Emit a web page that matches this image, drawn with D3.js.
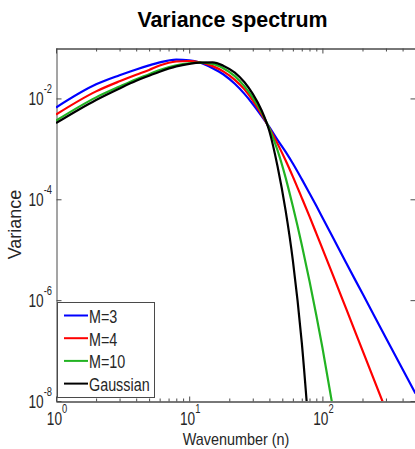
<!DOCTYPE html>
<html>
<head>
<meta charset="utf-8">
<script src="https://cdn.jsdelivr.net/npm/d3@7"></script>
<style>
  body { margin: 0; background: #fff; }
  svg { display: block; font-family: "Liberation Sans", Arial, sans-serif; }
</style>
</head>
<body>
<div id="chart"></div>
<script>
// Wavenumbers (n) at which the curves were read
const wavenumbers = [1, 2, 3, 4, 5, 6, 8, 10, 12, 15, 18, 22, 26, 30, 35, 40, 46, 53, 60, 70, 80, 90, 100, 120, 150, 200, 300, 500];

// Variance for each spectrum (curves stop once they leave the bottom of the plot)
const varianceM3 = [6.61e-3, 1.905e-2, 2.884e-2, 3.76e-2, 4.52e-2, 5.19e-2, 5.89e-2, 5.71e-2, 5.15e-2,
    3.98e-2, 3.02e-2, 1.95e-2, 1.23e-2, 7.76e-3, 4.47e-3, 2.69e-3, 1.51e-3, 8.71e-4, 5.13e-4,
    2.51e-4, 1.318e-4, 7.41e-5, 4.37e-5, 1.738e-5, 5.62e-6, 1.349e-6, 1.778e-7, 1.41e-8];
const varianceM4 = [4.79e-3, 1.38e-2, 2.19e-2, 2.95e-2, 3.67e-2, 4.50e-2, 5.40e-2, 5.52e-2, 5.21e-2,
    4.37e-2, 3.43e-2, 2.34e-2, 1.51e-2, 9.12e-3, 4.79e-3, 2.57e-3, 1.27e-3, 5.89e-4, 2.82e-4,
    1.07e-4, 4.57e-5, 2.11e-5, 1.05e-5, 3.13e-6, 7.0e-7, 1.01e-7, 6.6e-9];
const varianceM10 = [3.63e-3, 1.05e-2, 1.72e-2, 2.40e-2, 3.02e-2, 3.67e-2, 4.55e-2, 4.98e-2, 5.11e-2,
    4.84e-2, 3.98e-2, 2.77e-2, 1.73e-2, 1.04e-2, 5.26e-3, 2.52e-3, 9.44e-4, 2.66e-4, 7.24e-5,
    1.26e-5, 2.40e-6, 5.01e-7, 1.15e-7, 7.24e-9];
const varianceGauss = [3.24e-3, 9.33e-3, 1.58e-2, 2.24e-2, 2.82e-2, 3.39e-2, 4.32e-2, 4.86e-2, 5.15e-2,
    5.19e-2, 4.47e-2, 3.24e-2, 2.09e-2, 1.23e-2, 5.75e-3, 2.24e-3, 4.57e-4, 5.89e-5, 6.17e-6,
    1.45e-7, 1.82e-9];

const seriesNames = ["M=3", "M=4", "M=10", "Gaussian"];
const seriesValues = [varianceM3, varianceM4, varianceM10, varianceGauss];
const seriesColors = ["#0000ff", "#ff0000", "#22b322", "#000000"];

// Tick labels (10 to the power ...)
const xMajorTicks = [1, 10, 100];
const xTickExponents = ["0", "1", "2"];
const yMajorTicks = [1e-8, 1e-6, 1e-4, 1e-2];
const yTickExponents = ["-8", "-6", "-4", "-2"];

const width = 415;
const height = 449;
const plot = { left: 56, right: 415.5, top: 48, bottom: 401 };
const axisColor = "#4a4a4a";
const textColor = "#262626";

const svg = d3.select("#chart")
    .append("svg")
    .attr("width", width)
    .attr("height", height);

// Log scales on both axes
const x = d3.scaleLog().domain([1, 500]).range([plot.left, plot.right]);
const y = d3.scaleLog().domain([1e-8, 1e-1]).range([plot.bottom, plot.top]);

// Minor ticks 2..9 in each decade
const xMinorTicks = [];
[1, 10, 100].forEach((d) => {
    for (let k = 2; k <= 9; k++) if (d * k <= 500) xMinorTicks.push(d * k);
});

svg.append("defs").append("clipPath").attr("id", "plot-clip")
    .append("rect")
    .attr("x", plot.left)
    .attr("y", plot.top)
    .attr("width", plot.right - plot.left)
    .attr("height", plot.bottom - plot.top);

// Axes: ticks pointing into the plot, box on the visible sides
function styleAxis(g) {
    g.selectAll("path, line").attr("stroke", axisColor).attr("stroke-width", 1);
    g.selectAll("text").remove();
}
const axes = [
    [d3.axisBottom(x).tickValues(xMajorTicks).tickSize(-5), `translate(0, ${plot.bottom + 0.5})`],
    [d3.axisBottom(x).tickValues(xMinorTicks).tickSize(-3), `translate(0, ${plot.bottom + 0.5})`],
    [d3.axisTop(x).tickValues(xMajorTicks).tickSize(-5), `translate(0, ${plot.top + 0.5})`],
    [d3.axisTop(x).tickValues(xMinorTicks).tickSize(-3), `translate(0, ${plot.top + 0.5})`],
    [d3.axisLeft(y).tickValues(yMajorTicks).tickSize(-5), `translate(${plot.left + 0.5}, 0)`],
    [d3.axisRight(y).tickValues(yMajorTicks).tickSize(-5), `translate(${plot.right}, 0)`]
];
axes.forEach(([axis, tr], i) => {
    const g = svg.append("g")
        .attr("transform", tr)
        .call(axis.tickSizeOuter(0).tickFormat(""))
        .call(styleAxis);
    // right edge of the box falls just outside the picture
    if (i === 5) g.select(".domain").remove();
});

// Power-of-ten labels, narrow like the original font
function powerLabel(px, py, anchor, exponent) {
    const t = svg.append("g")
        .attr("transform", `translate(${px}, ${py}) scale(0.72, 1)`)
        .append("text")
        .attr("text-anchor", anchor)
        .attr("fill", textColor)
        .style("font-size", "19px");
    t.append("tspan").text("10");
    t.append("tspan").attr("dy", -12).style("font-size", "13px").text(exponent);
}
xMajorTicks.forEach((d, i) => powerLabel(x(d) + 1, 425, "middle", xTickExponents[i]));
yMajorTicks.forEach((d, i) => powerLabel(52, y(d) + 7, "end", yTickExponents[i]));

// Spectrum lines
const line = d3.line()
    .x((d) => x(d[0]))
    .y((d) => y(d[1]))
    .curve(d3.curveMonotoneX);

svg.append("g")
    .attr("clip-path", "url(#plot-clip)")
    .selectAll("path")
    .data(seriesValues)
    .enter()
    .append("path")
    .attr("d", (vals) => line(vals.map((v, i) => [wavenumbers[i], v])))
    .attr("fill", "none")
    .attr("stroke", (d, i) => seriesColors[i])
    .attr("stroke-width", 2.2)
    .attr("stroke-linejoin", "round");

// Legend
const legend = svg.append("g");
legend.append("rect")
    .attr("x", 57.5)
    .attr("y", 302.5)
    .attr("width", 97)
    .attr("height", 95)
    .attr("fill", "#fff")
    .attr("stroke", axisColor);
seriesNames.forEach((name, i) => {
    const ly = 315.5 + i * 22.7;
    legend.append("line")
        .attr("x1", 64).attr("x2", 88)
        .attr("y1", ly).attr("y2", ly)
        .attr("stroke", seriesColors[i])
        .attr("stroke-width", 2);
    legend.append("g")
        .attr("transform", `translate(89, ${ly + 7.5}) scale(0.82, 1)`)
        .append("text")
        .attr("fill", textColor)
        .style("font-size", "17.5px")
        .text(name);
});

// Axis titles
svg.append("g")
    .attr("transform", `translate(236, 445) scale(0.9, 1)`)
    .append("text")
    .attr("text-anchor", "middle")
    .attr("fill", textColor)
    .style("font-size", "16px")
    .text("Wavenumber (n)");

svg.append("text")
    .attr("transform", `translate(20.5, 224.5) rotate(-90)`)
    .attr("text-anchor", "middle")
    .attr("fill", textColor)
    .style("font-size", "18px")
    .text("Variance");

// Title
svg.append("text")
    .attr("x", 232.5)
    .attr("y", 26.5)
    .attr("text-anchor", "middle")
    .attr("fill", "#000")
    .style("font-size", "21.4px")
    .style("font-weight", "bold")
    .text("Variance spectrum");
</script>
</body>
</html>
